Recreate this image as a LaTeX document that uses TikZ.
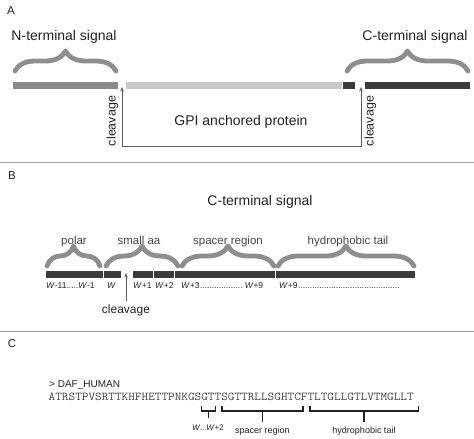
\documentclass[tikz,border=0pt]{standalone}
\usepackage{fontspec}
\setmainfont{Liberation Sans}
\usepackage{graphicx}
\usetikzlibrary{decorations.pathreplacing,arrows.meta}
\definecolor{midgray}{HTML}{8A8A8A}
\definecolor{lightbar}{HTML}{C8C8C8}
\definecolor{darkbar}{HTML}{3C3C3C}
\definecolor{bracegray}{HTML}{8E8E8E}
\definecolor{rulegray}{HTML}{A0A0A0}
\definecolor{txtdark}{HTML}{222222}
\definecolor{txtgray}{HTML}{444444}
\definecolor{linegray}{HTML}{5A5A5A}
\begin{document}
\begin{tikzpicture}[x=1pt,y=1pt,
  bar/.style={rectangle,inner sep=0pt,outer sep=0pt,minimum height=7pt,draw=none,anchor=west},
  bbar/.style={bar,fill=darkbar},
  gbrace/.style={draw=bracegray,line width=4.8pt,line cap=round,line join=round,decorate,decoration={brace,amplitude=20pt,aspect=0.5}},
  big/.style={text=txtdark,font=\fontsize{14}{16}\selectfont,inner sep=0pt},
  mid/.style={text=txtgray,font=\fontsize{11.5}{13}\selectfont,inner sep=0pt},
  wlab/.style={text=txtdark,font=\fontsize{8.5}{10}\selectfont,inner sep=0pt,anchor=base west},
  small/.style={text=txtdark,font=\fontsize{9}{11}\selectfont,inner sep=0pt},
  panel/.style={text=txtdark,font=\fontsize{11.5}{13}\selectfont,inner sep=0pt},
  conn/.style={draw=linegray,line width=0.8pt},
  tip/.style={-{Stealth[length=4.5pt,width=3.5pt]}},
  brk/.style={draw=txtdark,line width=1.1pt},
  sep/.style={draw=rulegray,line width=1.1pt}
]
\useasboundingbox (0,0) rectangle (474,-439);

% separators
\draw[sep] (0,-162.5) -- (474,-162.5);
\draw[sep] (0,-331.5) -- (474,-331.5);

% ---------------- A ----------------
\node[panel] (labA) at (11,-11) {A};
\node[big,anchor=base] (ntext) at (64,-40) {N-terminal signal};
\node[big,anchor=base] (ctext) at (415,-40) {C-terminal signal};
\draw[gbrace] (15,-71) -- (116,-71);
\draw[gbrace] (347,-71) -- (468,-71);

\node[bar,fill=midgray,minimum width=105pt] (nsig) at (13,-85.5) {};
\node[bar,fill=lightbar,minimum width=216pt] (gpi) at (126,-85.5) {};
\node[bar,fill=darkbar,minimum width=12pt] (cpre) at (343,-85.5) {};
\node[bar,fill=darkbar,minimum width=105pt] (ctail) at (365,-85.5) {};

\coordinate (cl) at (122,-87);
\coordinate (cr) at (361,-87);
\draw[conn,{Stealth[length=4.5pt,width=3.5pt]}-{Stealth[length=4.5pt,width=3.5pt]}] (cl) -- (122,-146) -| (cr);
\node[big,anchor=base] (gpitext) at (241,-125) {GPI anchored protein};
\node[mid,text=txtdark,font=\fontsize{12.5}{14}\selectfont,rotate=90] (cvl) at (112.5,-121) {cleavage};
\node[mid,text=txtdark,font=\fontsize{12.5}{14}\selectfont,rotate=90] (cvr) at (370.5,-121) {cleavage};

% ---------------- B ----------------
\node[panel] (labB) at (12,-176) {B};
\node[big,anchor=base] (ctitle) at (260,-205.5) {C-terminal signal};

\node[mid,anchor=base] (polar) at (74,-244) {polar};
\node[mid,anchor=base] (smallaa) at (139,-244) {small aa};
\node[mid,anchor=base] (spacer) at (228,-244) {spacer region};
\node[mid,anchor=base] (hydro) at (348,-244) {hydrophobic tail};

\draw[gbrace] (47,-266) -- (100,-266);
\draw[gbrace] (106,-266) -- (178,-266);
\draw[gbrace] (182,-266) -- (274,-266);
\draw[gbrace] (278,-266) -- (414,-266);

\node[bbar,minimum width=57pt] (b1) at (46,-274.5) {};
\node[bbar,minimum width=17pt] (b2) at (104,-274.5) {};
\node[bbar,minimum width=20pt] (b3) at (133,-274.5) {};
\node[bbar,minimum width=20pt] (b4) at (154,-274.5) {};
\node[bbar,minimum width=100pt] (b5) at (175,-274.5) {};
\node[bbar,minimum width=139pt] (b6) at (276,-274.5) {};

\node[wlab] (w1) at (46,-288) {\textit{W}-11.....\textit{W}-1};
\node[wlab] (w2) at (107,-288) {\textit{W}};
\node[wlab] (w3) at (133,-288) {\textit{W}+1};
\node[wlab] (w4) at (155,-288) {\textit{W}+2};
\node[wlab] (w5) at (181,-288) {\hbox to 82pt{\textit{W}+3\leaders\hbox{.}\hfill\textit{W}+9}};
\node[wlab] (w6) at (279,-288) {\hbox to 121pt{\textit{W}+9\leaders\hbox{.}\hfill}};

\coordinate (bcl) at (126,-273);
\node[mid,text=txtdark,font=\fontsize{12}{14}\selectfont,anchor=base] (cvb) at (126,-313) {cleavage};
\draw[conn,tip] (126,-301) -- (bcl);

% ---------------- C ----------------
\node[panel] (labC) at (12,-344) {C};
\node[small,font=\fontsize{10}{12}\selectfont,anchor=base west] (daf) at (49,-387) {> DAF\_HUMAN};
\node[anchor=base west,inner sep=0pt,text=txtgray] (seq) at (48.5,-400)
  {\fontsize{12}{14}\selectfont\ttfamily\scalebox{1.074}[1]{ATRSTPVSRTTKHFHETTPNKGSGTTSGTTRLLSGHTCFTLTGLLGTLVTMGLLT}};

\draw[brk] (201.6,-406) -- (201.6,-411) -- (215.2,-411) -- (215.2,-406);
\draw[brk] (208.4,-411) -- (208.4,-418);
\draw[brk] (222,-406) -- (222,-411) -- (303,-411) -- (303,-406);
\draw[brk] (262.5,-411) -- (262.5,-422);
\draw[brk] (310,-406) -- (310,-411) -- (418.5,-411) -- (418.5,-406);
\draw[brk] (364,-411) -- (364,-422);

\node[small,font=\fontsize{8}{10}\selectfont,anchor=base] (wlabc) at (208,-430) {\textit{W}...\textit{W}+2};
\node[small,anchor=base] (sptext) at (262.5,-433) {spacer region};
\node[small,anchor=base] (hytext) at (364,-433) {hydrophobic tail};
\end{tikzpicture}
\end{document}
